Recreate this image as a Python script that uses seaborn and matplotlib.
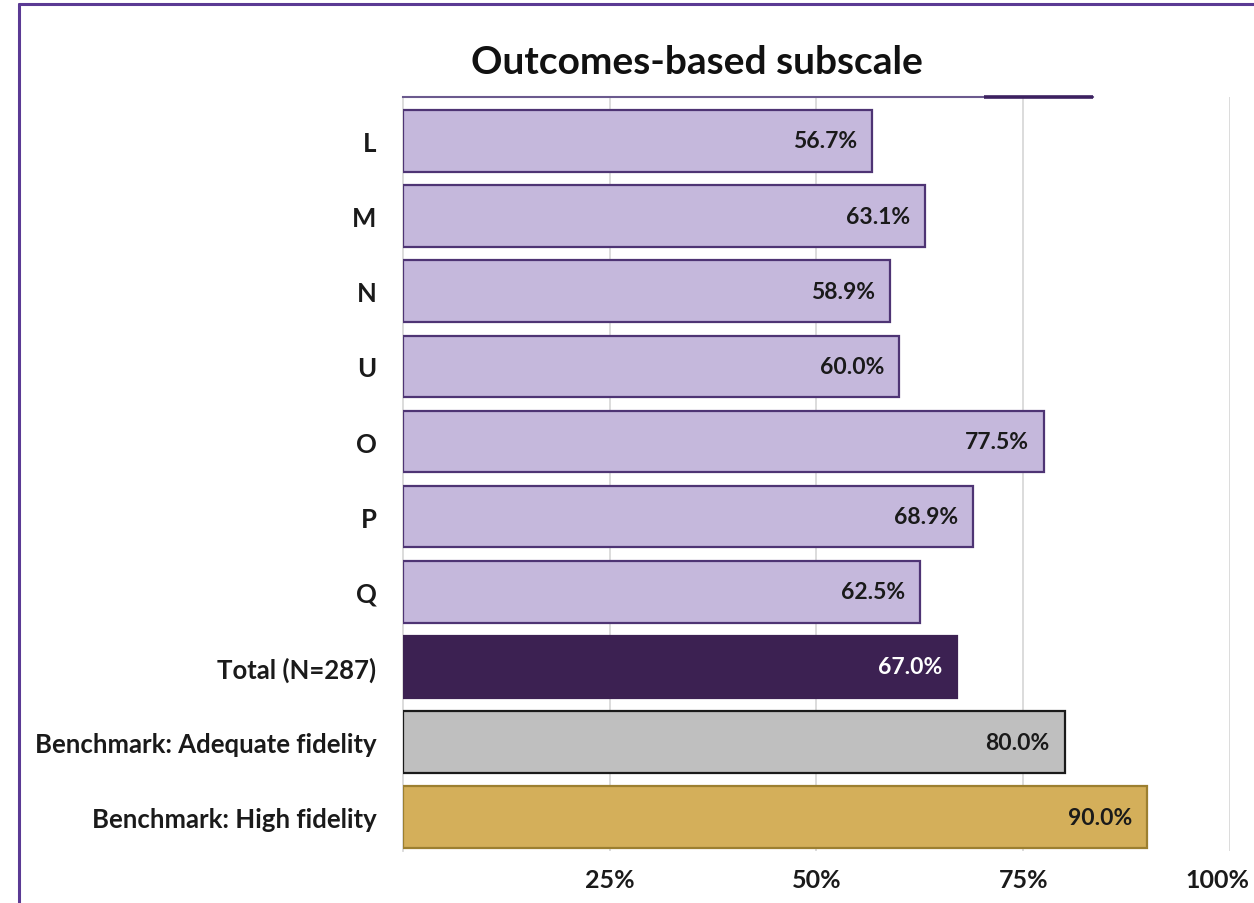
import matplotlib
matplotlib.use("Agg")
import matplotlib.pyplot as plt
import matplotlib.transforms as mtransforms
from matplotlib.lines import Line2D
import seaborn as sns
import pandas as pd

categories = ["L", "M", "N", "U", "O", "P", "Q", "Total (N=287)",
              "Benchmark: Adequate fidelity", "Benchmark: High fidelity"]
values = [56.7, 63.1, 58.9, 60.0, 77.5, 68.9, 62.5, 67.0, 80.0, 90.0]
fill_colors = ["#C5B8DC"] * 7 + ["#3C2152", "#BFBFBF", "#D4AF5A"]
edge_colors = ["#4E3474"] * 7 + ["#3C2152", "#1A1A1A", "#9C7F30"]
label_colors = ["#1A1A1A"] * 7 + ["#FFFFFF", "#1A1A1A", "#1A1A1A"]
x_ticks = [25, 50, 75, 100]
x_tick_labels = ["25%", "50%", "75%", "100%"]
title = "Outcomes-based subscale"

sns.set_theme(style="white")
plt.rcParams["font.family"] = ["Lato", "DejaVu Sans"]

df = pd.DataFrame({"category": categories, "value": values})

fig = plt.figure(figsize=(12.54, 9.04), dpi=100)
ax = fig.add_axes([403 / 1254, 1 - 852 / 904, (1230 - 403) / 1254, (852 - 98) / 904])

sns.barplot(data=df, x="value", y="category", hue="category",
            palette=dict(zip(categories, fill_colors)), legend=False,
            saturation=1, width=0.82, ax=ax, zorder=3)

for patch, ec in zip(ax.patches, edge_colors):
    patch.set_edgecolor(ec)
    patch.set_linewidth(1.6)

for i, (v, lc) in enumerate(zip(values, label_colors)):
    ax.text(v - 1.8, i, f"{v:.1f}%", ha="right", va="center",
            fontsize=16.5, fontweight="bold", color=lc, zorder=4)

ax.set_xlim(0, 100)
ax.set_ylim(9.45, -0.585)
ax.set_xticks(x_ticks)
ax.set_xticklabels(x_tick_labels, fontsize=18, fontweight="bold", color="#1A1A1A")
ax.tick_params(axis="x", length=0, pad=12)
ax.tick_params(axis="y", length=0, pad=19)
# keep the last tick label inside the figure edge
last = ax.get_xticklabels()[-1]
last.set_transform(last.get_transform() +
                   mtransforms.ScaledTranslation(-13 / 100, 0, fig.dpi_scale_trans))
for lbl in ax.get_yticklabels():
    lbl.set_fontsize(18.5)
    lbl.set_fontweight("bold")
    lbl.set_color("#1A1A1A")
ax.set_xlabel("")
ax.set_ylabel("")

ax.xaxis.grid(True, color="#D9D9D9", linewidth=1.3, zorder=0)
ax.yaxis.grid(False)
for side in ["right", "bottom"]:
    ax.spines[side].set_visible(False)
ax.spines["left"].set_color("#D9D9D9")
ax.spines["left"].set_linewidth(1.3)
ax.spines["top"].set_color("#6B5A8E")
ax.spines["top"].set_linewidth(1.5)
ax.spines["top"].set_bounds(0, 83.4)
ax.plot([70.3, 83.4], [-0.585, -0.585], color="#3C2160", linewidth=2.6,
        clip_on=False, zorder=5, solid_capstyle="butt")

fig.text(697 / 1254, 1 - 62 / 904, title, ha="center", va="center",
         fontsize=28, fontweight="bold", color="#111111")

# outer frame of the chart area
fig.add_artist(Line2D([19 / 1254, 1.0], [1 - 5 / 904, 1 - 5 / 904],
                      color="#5B3A94", linewidth=2.2, transform=fig.transFigure))
fig.add_artist(Line2D([19 / 1254, 19 / 1254], [1 - 5 / 904, 0.0],
                      color="#5B3A94", linewidth=2.2, transform=fig.transFigure))

fig.savefig("out.png", dpi=100, facecolor="white")
